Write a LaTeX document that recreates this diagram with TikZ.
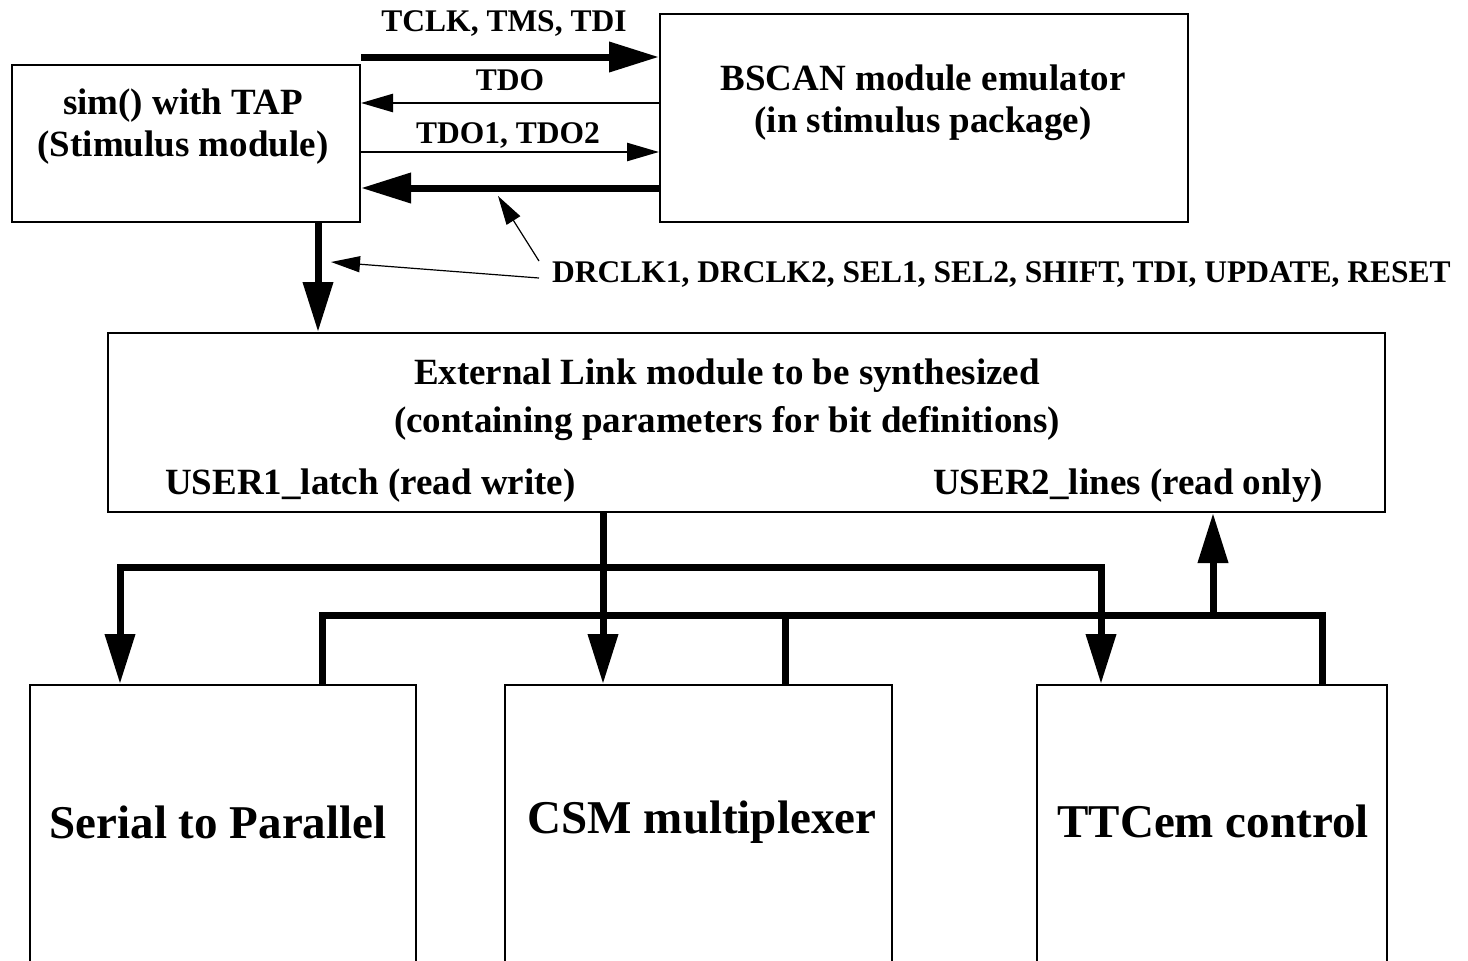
\documentclass[tikz,border=0pt]{standalone}
\usepackage{fontspec}
\setmainfont{Liberation Serif}
\usetikzlibrary{arrows.meta}

\begin{document}
\begin{tikzpicture}[
	x=1pt, y=-1pt,
	bigtip/.tip={Triangle[length=50pt,width=29pt]},
	wiretip/.tip={Triangle[length=32pt,width=18pt]},
	ptrtip/.tip={Triangle[length=29pt,width=16pt]},
	box/.style={ draw, line width=2pt, inner sep=0pt },
	lbl/.style={ font=\fontsize{31.5}{38}\selectfont\bfseries, inner sep=0pt, anchor=base },
	boxtext/.style={ font=\fontsize{37}{42}\selectfont\bfseries, inner sep=0pt, align=center },
	bigtext/.style={ font=\fontsize{47}{56}\selectfont\bfseries, inner sep=0pt, anchor=base },
	heavy/.style={ line width=7pt },
	wire/.style={ line width=2.5pt },
	pointer/.style={ line width=1.2pt, -ptrtip }
]
\clip (0,0) rectangle (1468,961);

% boxes
\node at (186,143.5) (sim) [box,minimum width=348pt,minimum height=157pt] {};
\node at (924,118) (bscan) [box,minimum width=528pt,minimum height=208pt] {};
\node at (746.5,422.5) (ext) [box,minimum width=1277pt,minimum height=179pt] {};
\node at (223,842.5) (serial) [box,minimum width=386pt,minimum height=315pt] {};
\node at (698.5,842.5) (csm) [box,minimum width=387pt,minimum height=315pt] {};
\node at (1212,842.5) (ttc) [box,minimum width=350pt,minimum height=315pt] {};

% box texts
\node at (183,127) (simtxt) [boxtext] {sim() with TAP\\(Stimulus module)};
\node at (923,102.5) (bscantxt) [boxtext] {BSCAN module emulator\\(in stimulus package)};
\node at (727,399.5) (exttxt) [boxtext,font=\fontsize{37}{48}\selectfont\bfseries] {External Link module to be synthesized\\(containing parameters for bit definitions)};
\node at (165,494) (user1) [boxtext,anchor=base west] {USER1\_latch (read write)};
\node at (933,494) (user2) [boxtext,anchor=base west] {USER2\_lines (read only)};
\node at (218,838) (sertxt) [bigtext] {Serial to Parallel};
\node at (702,833) (csmtxt) [bigtext] {CSM multiplexer};
\node at (1213,837) (ttctxt) [bigtext] {TTCem control};

% TAP signals
\coordinate (yA) at (0,57);
\coordinate (yB) at (0,103);
\coordinate (yC) at (0,152);
\coordinate (yD) at (0,188);
\node at (504,31) (tclk) [lbl] {TCLK, TMS, TDI};
\node at (510,90) (tdo) [lbl] {TDO};
\node at (508,143) (tdos) [lbl] {TDO1, TDO2};
\draw[heavy,-bigtip] (sim.east |- yA) -- (bscan.west |- yA);
\draw[wire,-wiretip] (bscan.west |- yB) -- (sim.east |- yB);
\draw[wire,-wiretip] (sim.east |- yC) -- (bscan.west |- yC);
\draw[heavy,-bigtip] (bscan.west |- yD) -- (sim.east |- yD);

\coordinate (drop) at (318,0);
\draw[heavy,-bigtip] (sim.south -| drop) -- (ext.north -| drop);

% control lines
\node at (552,282) (ctl) [lbl,anchor=base west] {DRCLK1, DRCLK2, SEL1, SEL2, SHIFT, TDI, UPDATE, RESET};
\coordinate (hitA) at (498,196);
\coordinate (hitB) at (331,262);
\draw[pointer] ([xshift=-13pt,yshift=13pt]ctl.west) -- (hitA);
\draw[pointer] ([xshift=-13pt,yshift=-4pt]ctl.west) -- (hitB);

% buses
\coordinate (feed) at (603,0);
\coordinate (b1l) at (120,567);
\coordinate (b1r) at (1101,567);
\coordinate (b2l) at (322,615);
\coordinate (b2m) at (785,615);
\coordinate (b2u) at (1213,615);
\coordinate (b2r) at (1322,615);
\draw[heavy,-bigtip] (ext.south -| feed) -- (csm.north -| feed);
\draw[heavy,bigtip-bigtip] (serial.north -| b1l) -- (b1l) -- (b1r) -- (ttc.north -| b1r);
\draw[heavy] (serial.north -| b2l) -- (b2l) -- (b2r) -- (ttc.north -| b2r);
\draw[heavy] (b2m) -- (csm.north -| b2m);
\draw[heavy,-bigtip] (b2u) -- (ext.south -| b2u);

\end{tikzpicture}
\end{document}
